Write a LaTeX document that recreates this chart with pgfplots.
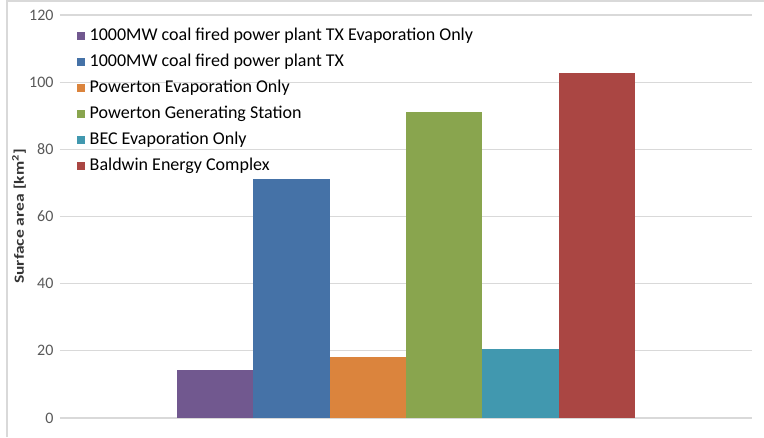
\documentclass[border=0pt]{standalone}
\usepackage{pgfplots}
\pgfplotsset{compat=1.18}
\usepackage{fontspec}
\setmainfont{Carlito}

\definecolor{cpurple}{HTML}{71588F}
\definecolor{cblue}{HTML}{4572A7}
\definecolor{corange}{HTML}{DB843D}
\definecolor{cgreen}{HTML}{89A54E}
\definecolor{cteal}{HTML}{4198AF}
\definecolor{cred}{HTML}{AA4643}
\definecolor{gridgray}{HTML}{D9D9D9}
\definecolor{ticktext}{HTML}{595959}

\begin{document}
\begin{tikzpicture}
\path[use as bounding box] (0pt,0pt) rectangle (764pt,437pt);
\draw[gridgray, line width=1.2pt] (7pt,0pt) -- (7pt,436pt) -- (764pt,436pt);
\begin{axis}[
    at={(60pt,19pt)}, anchor=south west,
    scale only axis, width=692pt, height=403pt,
    ybar=0pt, bar width=76.3pt,
    xmin=-0.5, xmax=0.5,
    ymin=0, ymax=120,
    ytick={0,20,...,120}, xtick=\empty,
    axis line style={draw=none},
    major tick length=0pt,
    ymajorgrids,
    grid style={gridgray, line width=1.2pt},
    yticklabel style={font=\fontsize{16}{18}\selectfont, color=ticktext, xshift=-3pt},
    /pgf/number format/assume math mode=true,
    ylabel={\scalebox{1.25}[1]{Surface area [km\textsuperscript{2}]}},
    ylabel style={at={(axis description cs:-0.0592,0.5)}, anchor=center,
        font=\bfseries\fontsize{14}{16}\selectfont, color=black!80},
    legend style={at={(axis description cs:0.0246,0.972)}, anchor=north west,
        draw=none, fill=none, inner sep=0pt,
        font=\fontsize{18}{21}\selectfont,
        nodes={text height=13pt, text depth=4.5pt, inner sep=1pt},
        row sep=6.5pt,
        /tikz/every odd column/.append style={column sep=4pt}},
    legend cell align=left,
    legend image code/.code={\fill[#1] (0pt,-3.8pt) rectangle (7.5pt,3.8pt);},
    every axis plot/.append style={draw=none},
]
\addplot[fill=cpurple] coordinates {(0,14.3)};
\addplot[fill=cblue]   coordinates {(0,71.2)};
\addplot[fill=corange] coordinates {(0,18.2)};
\addplot[fill=cgreen]  coordinates {(0,91.2)};
\addplot[fill=cteal]   coordinates {(0,20.5)};
\addplot[fill=cred]    coordinates {(0,102.6)};
\legend{1000MW coal fired power plant TX Evaporation Only,
        1000MW coal fired power plant TX,
        Powerton Evaporation Only,
        Powerton Generating Station,
        BEC Evaporation Only,
        Baldwin Energy Complex}
\end{axis}
\end{tikzpicture}
\end{document}
